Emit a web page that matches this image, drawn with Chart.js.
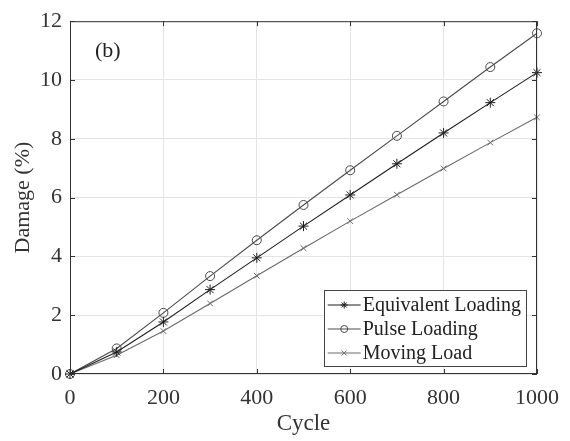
<!DOCTYPE html>
<html>
<head>
<meta charset="utf-8">
<script src="https://cdn.jsdelivr.net/npm/chart.js@4/dist/chart.umd.min.js"></script>
<style>
  html, body { margin: 0; padding: 0; background: #fff; }
  #wrap { width: 570px; height: 441px; position: relative; }
</style>
</head>
<body>
<div id="wrap"><canvas id="c"></canvas></div>
<script>
// Damage accumulated over loading cycles, panel (b)
const cycles = [0, 100, 200, 300, 400, 500, 600, 700, 800, 900, 1000];
const equivalentLoading = [0, 0.75, 1.77, 2.87, 3.95, 5.03, 6.09, 7.15, 8.2, 9.23, 10.25];
const pulseLoading = [0, 0.87, 2.08, 3.33, 4.55, 5.75, 6.93, 8.1, 9.27, 10.44, 11.59];
const movingLoad = [0, 0.64, 1.46, 2.4, 3.34, 4.28, 5.2, 6.1, 6.99, 7.87, 8.73];
const xTicks = [0, 200, 400, 600, 800, 1000];
const yTicks = [0, 2, 4, 6, 8, 10, 12];
const panelLabel = '(b)';

const SERIF = "'Liberation Serif', 'Times New Roman', serif";

const toPoints = ys => cycles.map((c, i) => ({ x: c, y: ys[i] }));

const series = [
  { label: 'Equivalent Loading', data: equivalentLoading, color: '#1e1e1e', style: 'star', radius: 5 },
  { label: 'Pulse Loading', data: pulseLoading, color: '#4a4a4a', style: 'circle', radius: 4.5 },
  { label: 'Moving Load', data: movingLoad, color: '#6a6a6a', style: 'crossRot', radius: 4 }
];

// Box frame, inward ticks on all four sides, panel label and legend
const framePlugin = {
  id: 'frame',
  afterDraw(chart) {
    const { ctx, chartArea: a, scales } = chart;
    const xs = scales.x, ys = scales.y;
    ctx.save();
    ctx.strokeStyle = '#333';
    ctx.lineWidth = 1;
    ctx.strokeRect(a.left + 0.5, a.top + 0.5, a.right - a.left - 1, a.bottom - a.top - 1);
    const tl = 5;
    ctx.beginPath();
    xTicks.forEach(v => {
      const px = Math.round(xs.getPixelForValue(v)) + 0.5;
      ctx.moveTo(px, a.bottom); ctx.lineTo(px, a.bottom - tl);
      ctx.moveTo(px, a.top); ctx.lineTo(px, a.top + tl);
    });
    yTicks.forEach(v => {
      const py = Math.round(ys.getPixelForValue(v)) + 0.5;
      ctx.moveTo(a.left, py); ctx.lineTo(a.left + tl, py);
      ctx.moveTo(a.right, py); ctx.lineTo(a.right - tl, py);
    });
    ctx.stroke();

    // panel label
    ctx.fillStyle = '#222';
    ctx.font = '22px ' + SERIF;
    ctx.textBaseline = 'middle';
    ctx.textAlign = 'left';
    ctx.fillText(panelLabel, a.left + 25, a.top + 30);

    // legend
    ctx.font = '20px ' + SERIF;
    const textW = Math.max(...chart.data.datasets.map(d => ctx.measureText(d.label).width));
    const rowH = 24;
    const n = chart.data.datasets.length;
    const boxW = 3 + 34 + 2 + textW + 5;
    const boxH = n * rowH + 4;
    const right = a.right - 11;
    const bottom = a.bottom - 8;
    const left = right - boxW;
    const top = bottom - boxH;
    ctx.fillStyle = '#fff';
    ctx.fillRect(left, top, boxW, boxH);
    ctx.strokeStyle = '#444';
    ctx.strokeRect(Math.round(left) + 0.5, Math.round(top) + 0.5, Math.round(boxW), Math.round(boxH));
    chart.data.datasets.forEach((d, i) => {
      const cy = top + 3 + rowH * i + rowH / 2;
      const lx0 = left + 4, lx1 = left + 37;
      ctx.strokeStyle = d.borderColor;
      ctx.lineWidth = 1;
      ctx.beginPath();
      ctx.moveTo(lx0, cy); ctx.lineTo(lx1, cy);
      ctx.stroke();
      ctx.fillStyle = 'rgba(0,0,0,0)';
      Chart.helpers.drawPoint(ctx, {
        pointStyle: d.pointStyle, radius: 3.5, borderWidth: 1, rotation: 0
      }, (lx0 + lx1) / 2, cy);
      ctx.fillStyle = '#222';
      ctx.fillText(d.label, left + 39, cy + 1);
    });
    ctx.restore();
  }
};

new Chart(document.getElementById('c'), {
  type: 'line',
  data: {
    datasets: series.map(s => ({
      label: s.label,
      data: toPoints(s.data),
      borderColor: s.color,
      backgroundColor: 'rgba(0,0,0,0)',
      borderWidth: 1.1,
      pointStyle: s.style,
      pointRadius: s.radius,
      pointBorderColor: s.color,
      pointBackgroundColor: 'rgba(0,0,0,0)',
      pointBorderWidth: 1,
      tension: 0,
      clip: false
    }))
  },
  options: {
    responsive: true,
    maintainAspectRatio: false,
    animation: false,
    layout: { padding: { top: 17, right: 31, left: 0, bottom: 0 } },
    plugins: { legend: { display: false }, tooltip: { enabled: false } },
    scales: {
      x: {
        type: 'linear',
        min: 0, max: 1000,
        afterBuildTicks: s => { s.ticks = xTicks.map(v => ({ value: v })); },
        afterFit: s => { s.height = 67; },
        grid: { color: '#e4e4e4', drawTicks: false, lineWidth: 1 },
        border: { display: false },
        ticks: { color: '#333', font: { family: SERIF, size: 22 }, padding: 11, maxRotation: 0, callback: v => String(v) },
        title: { display: true, text: 'Cycle', color: '#333', font: { family: SERIF, size: 23 }, padding: { top: 0, bottom: 3 } }
      },
      y: {
        min: 0, max: 12,
        afterBuildTicks: s => { s.ticks = yTicks.map(v => ({ value: v })); },
        afterFit: s => { s.width = 70; },
        grid: { color: '#e4e4e4', drawTicks: false, lineWidth: 1 },
        border: { display: false },
        ticks: { color: '#333', font: { family: SERIF, size: 22 }, padding: 8, callback: v => String(v) },
        title: { display: true, text: 'Damage (%)', color: '#333', font: { family: SERIF, size: 22 }, padding: { top: 10, bottom: 0 } }
      }
    }
  },
  plugins: [framePlugin]
});
</script>
</body>
</html>
